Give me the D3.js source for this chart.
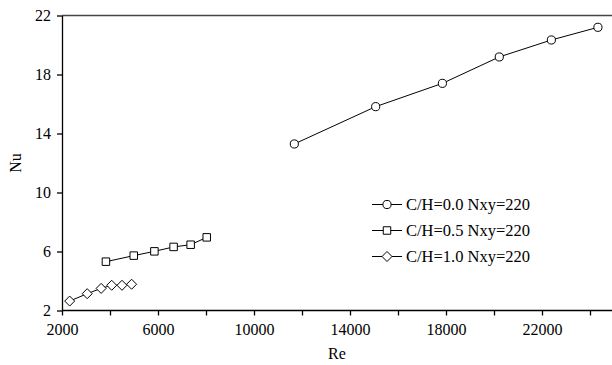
<!DOCTYPE html>
<meta charset="utf-8">
<head>
  <style>
    body { margin: 0; background: #fff; }
    .axis path, .axis line { stroke: #000; stroke-width: 1.3; }
  </style>
</head>
<body>
  <div class="chart"></div>
  <script src="https://d3js.org/d3.v7.min.js"></script>
  <script>
    // C/H = 0.0
    var re0 = [11680, 15070, 17850, 20220, 22390, 24330];
    var nu0 = [13.29, 15.82, 17.4, 19.19, 20.34, 21.2];
    // C/H = 0.5
    var re5 = [3830, 4990, 5850, 6650, 7360, 8030];
    var nu5 = [5.31, 5.72, 6.01, 6.31, 6.46, 6.96];
    // C/H = 1.0
    var re10 = [2320, 3050, 3630, 4070, 4500, 4900];
    var nu10 = [2.64, 3.14, 3.5, 3.71, 3.71, 3.78];

    var seriesNames = ["C/H=0.0 Nxy=220", "C/H=0.5 Nxy=220", "C/H=1.0 Nxy=220"];
    var markers = ["circle", "square", "diamond"];
    var xTicks = [2000, 4000, 6000, 8000, 10000, 12000, 14000, 16000, 18000, 20000, 22000, 24000];
    var xLabels = [2000, 6000, 10000, 14000, 18000, 22000];
    var yTicks = [2, 6, 10, 14, 18, 22];

    var W = 612, H = 365;
    var margin = { top: 15.5, left: 62, bottom: 54.5 };
    var serif = '"Liberation Serif", "DejaVu Serif", serif';

    var x = d3.scaleLinear().domain([2000, 26000]).range([margin.left, margin.left + 576]);
    var y = d3.scaleLinear().domain([2, 22]).range([H - margin.bottom, margin.top]);

    var svg = d3.select(".chart").append("svg")
        .attr("width", W)
        .attr("height", H)
        .style("font-family", serif);

    // top frame line
    svg.append("line")
        .attr("x1", x(2000)).attr("x2", W)
        .attr("y1", y(22)).attr("y2", y(22))
        .attr("stroke", "#444").attr("stroke-width", 1.3);

    var xAxis = d3.axisBottom(x).tickValues(xTicks).tickSize(5).tickSizeOuter(0)
        .tickFormat(function(d){ return xLabels.indexOf(d) >= 0 ? d : ""; });
    svg.append("g")
        .attr("class", "axis")
        .attr("transform", "translate(0," + y(2) + ")")
        .call(xAxis)
        .attr("font-family", serif)
        .attr("font-size", 16)
        .call(function(g){ g.select(".domain").attr("d", "M" + x(2000) + ",0H" + W); })
        .selectAll("text").attr("dy", "1.0em").attr("fill", "#000");

    var yAxis = d3.axisLeft(y).tickValues(yTicks).tickSize(5).tickSizeOuter(0);
    svg.append("g")
        .attr("class", "axis")
        .attr("transform", "translate(" + x(2000) + ",0)")
        .call(yAxis)
        .attr("font-family", serif)
        .attr("font-size", 16)
        .selectAll("text").attr("x", -11).attr("fill", "#000");

    svg.append("text")
        .attr("x", x(2000) + 275).attr("y", 359)
        .attr("text-anchor", "middle")
        .style("font-size", "16px")
        .text("Re");

    svg.append("text")
        .attr("transform", "translate(21," + y(12) + ") rotate(-90)")
        .attr("text-anchor", "middle")
        .style("font-size", "16px")
        .text("Nu");

    var diamond = "M0,-5L5,0L0,5L-5,0Z";
    var symbolPath = {
      circle: d3.symbol().type(d3.symbolCircle).size(52)(),
      square: d3.symbol().type(d3.symbolSquare).size(56)(),
      diamond: diamond
    };

    var series = [
      { re: re0, nu: nu0 },
      { re: re5, nu: nu5 },
      { re: re10, nu: nu10 }
    ];

    var line = d3.line()
        .x(function(d){ return x(d[0]); })
        .y(function(d){ return y(d[1]); });

    series.forEach(function(s, i) {
      var pts = s.re.map(function(r, j){ return [r, s.nu[j]]; });
      svg.append("path")
          .attr("d", line(pts))
          .attr("fill", "none")
          .attr("stroke", "#000")
          .attr("stroke-width", 1);
      svg.selectAll(".m" + i)
          .data(pts)
        .enter().append("path")
          .attr("class", "m" + i)
          .attr("transform", function(d){ return "translate(" + x(d[0]) + "," + y(d[1]) + ")"; })
          .attr("d", symbolPath[markers[i]])
          .attr("fill", "#fff")
          .attr("stroke", "#000")
          .attr("stroke-width", 1);
    });

    // legend
    var legY = [204.5, 230.5, 256.5];
    var lg = svg.append("g");
    seriesNames.forEach(function(name, i) {
      lg.append("line")
          .attr("x1", 372).attr("x2", 402)
          .attr("y1", legY[i]).attr("y2", legY[i])
          .attr("stroke", "#000").attr("stroke-width", 1);
      lg.append("path")
          .attr("transform", "translate(387," + legY[i] + ")")
          .attr("d", symbolPath[markers[i]])
          .attr("fill", "#fff").attr("stroke", "#000").attr("stroke-width", 1);
      lg.append("text")
          .attr("x", 406).attr("y", legY[i])
          .attr("dy", "0.35em")
          .style("font-size", "16.5px")
          .text(name);
    });
  </script>
</body>
